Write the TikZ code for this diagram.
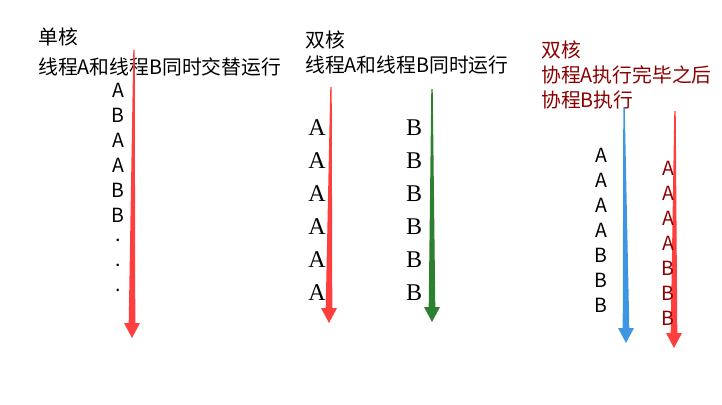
\documentclass[tikz,border=0pt]{standalone}
\usepackage{fontspec}
\setmainfont{Liberation Serif}
\newfontfamily\cjk{Noto Sans CJK SC}
\usetikzlibrary{calc}
\definecolor{threadred}{RGB}{255,62,62}
\definecolor{threadgreen}{RGB}{46,128,48}
\definecolor{threadblue}{RGB}{62,150,226}
\definecolor{coroutred}{RGB}{139,0,0}
\tikzset{
    title/.style={anchor=west, inner sep=0pt, font=\cjk\fontsize{19.8}{21}\selectfont},
    sansletter/.style={inner sep=0pt, font=\cjk\fontsize{19.5}{21}\selectfont},
    serifletter/.style={inner sep=0pt, font=\fontsize{24}{26}\selectfont}
}
\newcommand{\drawtaper}[3]{
    \coordinate (top) at #2;
    \coordinate (tip) at #3;
    \fill[#1] ($(top)+(-0.7,0)$) -- ($(top)+(0.7,0)$) -- ($(tip)+(3.3,-15)$)
        -- ($(tip)+(8,-15)$) -- (tip) -- ($(tip)+(-8,-15)$) -- ($(tip)+(-3.3,-15)$) -- cycle;
}

\begin{document}
\begin{tikzpicture}[x=1pt, y=-1pt]
        \useasboundingbox (0,0) rectangle (722,404);
        % single core
        \node[title] (singlehead) at (38,37) {单核};
        \node[title] (singleline) at (38,67) {线程A和线程B同时交替运行};
        \drawtaper{threadred}{(134,50)}{(132,338)}
        \foreach \l [count=\i] in {A,B,A,A,B,B,.,.,.}
            \node[sansletter] (single\i) at (118,{90+25*(\i-1)}) {\l};
        % dual core, two threads
        \node[title] (dualhead) at (305,40) {双核};
        \node[title] (dualline) at (305,65) {线程A和线程B同时运行};
        \drawtaper{threadred}{(331,87)}{(329,323)}
        \drawtaper{threadgreen}{(432,89)}{(432,322)}
        \foreach \i in {1,...,6}{
            \node[serifletter] (duala\i) at (317,{128+33*(\i-1)}) {A};
            \node[serifletter] (dualb\i) at (414,{128+33*(\i-1)}) {B};
        }
        % dual core, coroutines
        \node[title, text=coroutred] (corohead) at (541,50) {双核};
        \node[title, text=coroutred] (corolineA) at (541,75) {协程A执行完毕之后};
        \node[title, text=coroutred] (corolineB) at (541,100) {协程B执行};
        \drawtaper{threadblue}{(624,107)}{(626,343)}
        \drawtaper{threadred}{(675,111)}{(674,348)}
        \foreach \l [count=\i] in {A,A,A,A,B,B,B}{
            \node[sansletter] (coroleft\i) at (601,{155+25*(\i-1)}) {\l};
            \node[sansletter, text=coroutred] (cororight\i) at (668,{168+25*(\i-1)}) {\l};
        }
    \end{tikzpicture}
\end{document}
